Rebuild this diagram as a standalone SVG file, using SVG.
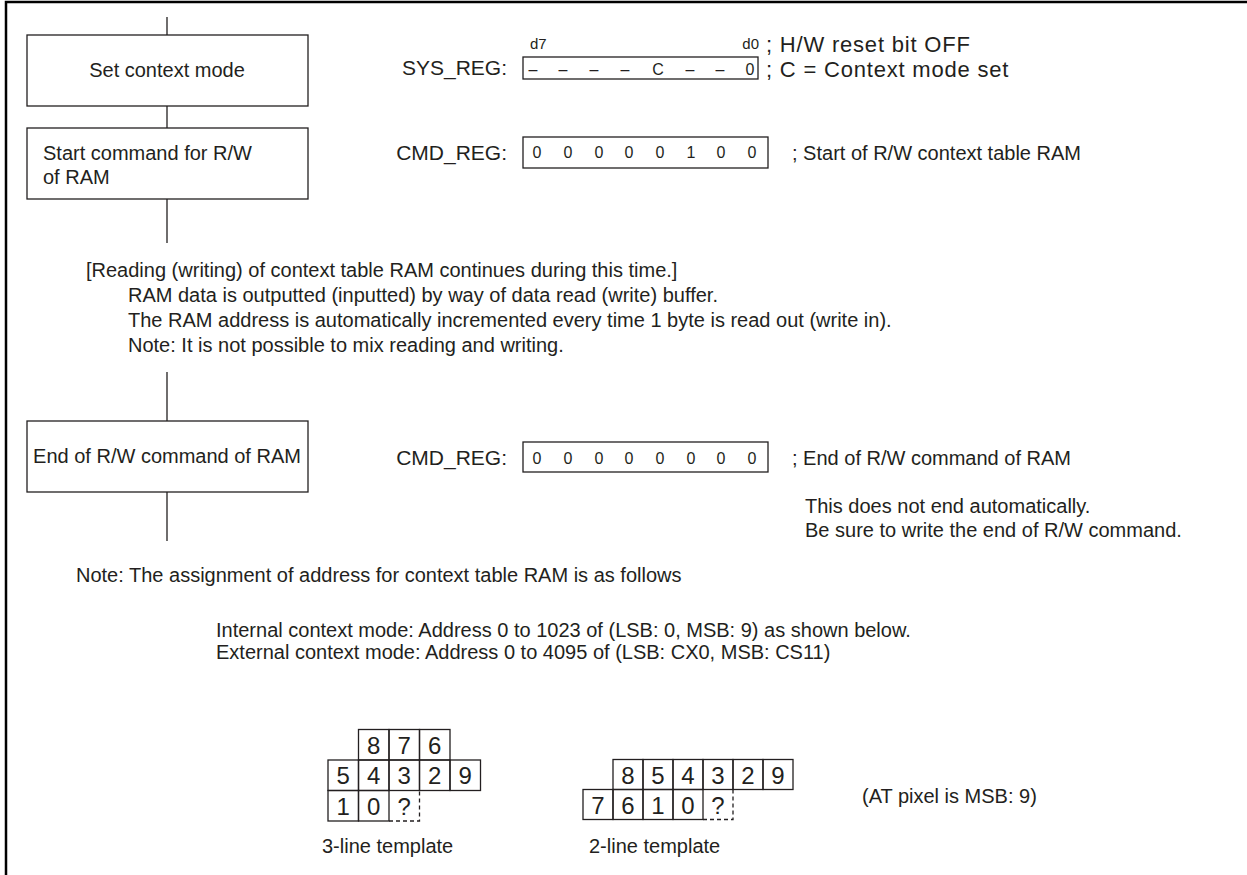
<svg xmlns="http://www.w3.org/2000/svg" width="1247" height="875" viewBox="0 0 1247 875">
<style>
text{font-family:"Liberation Sans",Arial,sans-serif;fill:#231f20}
.t{font-size:20px}
.b{font-size:20px}
.l{font-size:21px;text-anchor:end}
.a{font-size:22px;letter-spacing:0.8px}
.r{font-size:16px}
.d{font-size:15px}
.g{font-size:24px;text-anchor:middle}
.box{fill:#fff;stroke:#231f20;stroke-width:1.3}
.reg{fill:#fff;stroke:#231f20;stroke-width:1.3}
.cell{fill:none;stroke:#231f20;stroke-width:1.3}
.dash{fill:none;stroke:#231f20;stroke-width:1.3;stroke-dasharray:4 3}
.ln{stroke:#231f20;stroke-width:1.3;fill:none}
</style>
<rect width="1247" height="875" fill="#fff"/>
<path d="M6,875 V2 H1247" fill="none" stroke="#000" stroke-width="2.5"/>
<g id="connectors">
<line class="ln" x1="167" y1="17" x2="167" y2="35"/>
<line class="ln" x1="167" y1="106" x2="167" y2="128"/>
<line class="ln" x1="167" y1="199" x2="167" y2="243"/>
<line class="ln" x1="167" y1="372" x2="167" y2="421"/>
<line class="ln" x1="167" y1="492" x2="167" y2="541"/>
</g>
<g id="n1"><rect class="box" x="27" y="35" width="281" height="71"/><text class="b" x="167" y="77" text-anchor="middle">Set context mode</text></g>
<g id="n2"><rect class="box" x="27" y="128" width="281" height="71"/><text class="b" x="43" y="160">Start command for R/W</text><text class="b" x="43" y="184">of RAM</text></g>
<g id="n3"><rect class="box" x="27" y="421" width="281" height="71"/><text class="b" x="167" y="463" text-anchor="middle">End of R/W command of RAM</text></g>
<g id="sysreg">
<text class="d" x="530" y="49">d7</text><text class="d" x="759" y="49" text-anchor="end">d0</text>
<text class="l" x="507" y="75">SYS_REG:</text>
<rect class="reg" x="523" y="57" width="235" height="22"/>
<g class="r" text-anchor="middle"><text x="533" y="75">–</text><text x="563" y="75">–</text><text x="594" y="75">–</text><text x="625" y="75">–</text><text x="658" y="75">C</text><text x="690" y="75">–</text><text x="720" y="75">–</text><text x="750" y="75">0</text></g>
<text class="a" x="766" y="52">; H/W reset bit OFF</text>
<text class="a" x="766" y="77">; C = Context mode set</text>
</g>
<g id="cmdreg1">
<text class="l" x="507" y="160">CMD_REG:</text>
<rect class="reg" x="523" y="137" width="245" height="31"/>
<g class="r" text-anchor="middle"><text x="537" y="158">0</text><text x="568" y="158">0</text><text x="599" y="158">0</text><text x="629" y="158">0</text><text x="660" y="158">0</text><text x="691" y="158">1</text><text x="721" y="158">0</text><text x="752" y="158">0</text></g>
<text class="t" x="792" y="160">; Start of R/W context table RAM</text>
</g>
<g id="note1">
<text class="t" x="86" y="277">[Reading (writing) of context table RAM continues during this time.]</text>
<text class="t" x="128" y="302">RAM data is outputted (inputted) by way of data read (write) buffer.</text>
<text class="t" x="128" y="327">The RAM address is automatically incremented every time 1 byte is read out (write in).</text>
<text class="t" x="128" y="352">Note: It is not possible to mix reading and writing.</text>
</g>
<g id="cmdreg2">
<text class="l" x="507" y="465">CMD_REG:</text>
<rect class="reg" x="523" y="442" width="245" height="30"/>
<g class="r" text-anchor="middle"><text x="537" y="464">0</text><text x="568" y="464">0</text><text x="599" y="464">0</text><text x="629" y="464">0</text><text x="660" y="464">0</text><text x="691" y="464">0</text><text x="721" y="464">0</text><text x="752" y="464">0</text></g>
<text class="t" x="792" y="465">; End of R/W command of RAM</text>
<text class="t" x="805" y="513">This does not end automatically.</text>
<text class="t" x="805" y="537">Be sure to write the end of R/W command.</text>
</g>
<g id="note2">
<text class="t" x="76" y="582">Note: The assignment of address for context table RAM is as follows</text>
<text class="t" x="216" y="637">Internal context mode: Address 0 to 1023 of (LSB: 0, MSB: 9) as shown below.</text>
<text class="t" x="216" y="659">External context mode: Address 0 to 4095 of (LSB: CX0, MSB: CS11)</text>
</g>
<g id="tmpl3">
<rect class="cell" x="358.5" y="729.5" width="30.5" height="30.5"/><rect class="cell" x="389" y="729.5" width="30.5" height="30.5"/><rect class="cell" x="419.5" y="729.5" width="30.5" height="30.5"/>
<rect class="cell" x="328" y="760" width="30.5" height="30.5"/><rect class="cell" x="358.5" y="760" width="30.5" height="30.5"/><rect class="cell" x="389" y="760" width="30.5" height="30.5"/><rect class="cell" x="419.5" y="760" width="30.5" height="30.5"/><rect class="cell" x="450" y="760" width="30.5" height="30.5"/>
<rect class="cell" x="328" y="790.5" width="30.5" height="30.5"/><rect class="cell" x="358.5" y="790.5" width="30.5" height="30.5"/>
<path class="dash" d="M389,821 H419.5 V790.5"/>
<g class="g"><text x="373.8" y="754">8</text><text x="404.3" y="754">7</text><text x="434.8" y="754">6</text>
<text x="343.3" y="784">5</text><text x="373.8" y="784">4</text><text x="404.3" y="784">3</text><text x="434.8" y="784">2</text><text x="465.3" y="784">9</text>
<text x="343.3" y="815">1</text><text x="373.8" y="815">0</text><text x="404.3" y="815">?</text></g>
<text class="t" x="322" y="853">3-line template</text>
</g>
<g id="tmpl2">
<rect class="cell" x="613" y="759.5" width="30" height="30"/><rect class="cell" x="643" y="759.5" width="30" height="30"/><rect class="cell" x="673" y="759.5" width="30" height="30"/><rect class="cell" x="703" y="759.5" width="30" height="30"/><rect class="cell" x="733" y="759.5" width="30" height="30"/><rect class="cell" x="763" y="759.5" width="30" height="30"/>
<rect class="cell" x="583" y="789.5" width="30" height="30"/><rect class="cell" x="613" y="789.5" width="30" height="30"/><rect class="cell" x="643" y="789.5" width="30" height="30"/><rect class="cell" x="673" y="789.5" width="30" height="30"/>
<path class="dash" d="M703,819.5 H733 V789.5"/>
<g class="g"><text x="628" y="783.5">8</text><text x="658" y="783.5">5</text><text x="688" y="783.5">4</text><text x="718" y="783.5">3</text><text x="748" y="783.5">2</text><text x="778" y="783.5">9</text>
<text x="598" y="813.5">7</text><text x="628" y="813.5">6</text><text x="658" y="813.5">1</text><text x="688" y="813.5">0</text><text x="718" y="813.5">?</text></g>
<text class="t" x="589" y="853">2-line template</text>
<text class="t" x="862" y="803">(AT pixel is MSB: 9)</text>
</g>
</svg>
